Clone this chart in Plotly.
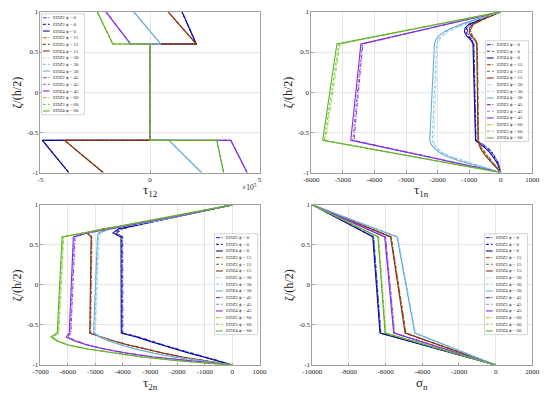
import plotly.graph_objects as go

W, H = 550, 395

PHIS = [0, 15, 30, 45, 60]
EDZS = ["EDZ2", "EDZ3", "EDZ4"]

COLORS = {
    0: ["#4646e6", "#2424c4", "#0e0e90"],
    15: ["#b0602a", "#6e6420", "#8a3214"],
    30: ["#b4e2f4", "#8ccaf0", "#6aaad8"],
    45: ["#7a44e2", "#a474da", "#8a2be2"],
    60: ["#a6d84a", "#84c83e", "#5eb030"],
}
DASHES = {"EDZ2": "4px,1.5px,1px,1.5px", "EDZ3": "3px,2px", "EDZ4": "solid"}

# ---------- subplot 1 : tau_12 (x 10^5) ----------
Z_T12 = [-1, -0.6, -0.6, 0.6, 0.6, 1]
T12_PHI0 = [-3.71, -4.91, 0, 0, 2.11, 1.46]
T12_PHI15 = [-2.14, -3.90, 0, 0, 2.11, 0.83]
T12_PHI30 = [2.35, 0.86, 0, 0, 0.49, -0.74]
T12_PHI45 = [4.43, 3.69, 0, 0, -0.89, -2.01]
T12_PHI60 = [3.36, 3.05, 0, 0, -1.70, -2.41]

# ---------- common zeta grids ----------
Z_C = [-1, -0.95, -0.9, -0.85, -0.8, -0.75, -0.7, -0.65, -0.6,
       0.6, 0.65, 0.7, 0.75, 0.8, 0.85, 0.9, 0.95, 1]
Z_L = [-1, -0.6, 0.6, 1]

# ---------- subplot 2 : tau_1n ----------
T1N_PHI0_EDZ2 = [0, -25, -60, -110, -180, -270, -390, -560, -780, -850, -900, -1000, -1060, -1040, -930, -640, -310, 0]
T1N_PHI0_EDZ3 = [0, -30, -70, -125, -200, -295, -420, -590, -790, -860, -920, -1030, -1100, -1080, -960, -660, -320, 0]
T1N_PHI0_EDZ4 = [0, -40, -95, -165, -250, -350, -480, -640, -800, -880, -950, -1080, -1150, -1130, -1000, -680, -330, 0]
T1N_PHI15_EDZ2 = [0, -100, -210, -320, -420, -510, -590, -650, -700, -740, -790, -890, -950, -930, -830, -570, -285, 0]
T1N_PHI15_EDZ3 = [0, -110, -225, -340, -445, -535, -615, -670, -710, -750, -805, -915, -975, -955, -850, -585, -292, 0]
T1N_PHI15_EDZ4 = [0, -120, -240, -360, -470, -560, -640, -690, -720, -760, -820, -940, -1000, -980, -870, -600, -300, 0]
T1N_PHI30_EDZ2 = [0, -400, -820, -1240, -1580, -1820, -1980, -2080, -2130, -1990, -1940, -1840, -1670, -1420, -1100, -760, -400, 0]
T1N_PHI30_EDZ3 = [0, -420, -850, -1280, -1620, -1860, -2020, -2120, -2170, -2030, -1980, -1880, -1710, -1460, -1140, -790, -415, 0]
T1N_PHI30_EDZ4 = [0, -450, -900, -1350, -1700, -1940, -2100, -2200, -2250, -2100, -2060, -1960, -1800, -1550, -1220, -850, -450, 0]
T1N_PHI45_EDZ2 = [0, -4650, -4370, 0]
T1N_PHI45_EDZ3 = [0, -4690, -4390, 0]
T1N_PHI45_EDZ4 = [0, -4750, -4430, 0]
T1N_PHI60_EDZ2 = [0, -5550, -5090, 0]
T1N_PHI60_EDZ3 = [0, -5590, -5130, 0]
T1N_PHI60_EDZ4 = [0, -5640, -5190, 0]

# ---------- subplot 3 : tau_2n ----------
T2N_PHI0_EDZ2 = [0, -440, -970, -1510, -2010, -2500, -2950, -3400, -3990, -4000, -4200, -4000, -3380, -2700, -2020, -1360, -680, 0]
T2N_PHI0_EDZ3 = [0, -470, -1010, -1550, -2050, -2550, -3000, -3450, -4020, -4030, -4270, -4070, -3410, -2720, -2035, -1370, -685, 0]
T2N_PHI0_EDZ4 = [0, -500, -1050, -1600, -2100, -2600, -3050, -3500, -4050, -4060, -4350, -4150, -3450, -2750, -2050, -1380, -690, 0]
T2N_PHI15_EDZ2 = [0, -960, -1800, -2500, -3150, -3750, -4300, -4730, -5170, -5120, -5260, -4650, -3620, -2830, -2090, -1395, -698, 0]
T2N_PHI15_EDZ3 = [0, -980, -1830, -2530, -3180, -3780, -4330, -4760, -5190, -5140, -5290, -4680, -3640, -2840, -2095, -1398, -699, 0]
T2N_PHI15_EDZ4 = [0, -1000, -1850, -2550, -3200, -3800, -4350, -4780, -5200, -5150, -5320, -4700, -3650, -2850, -2100, -1400, -700, 0]
T2N_PHI30_EDZ2 = [0, -1100, -2080, -2830, -3480, -3980, -4430, -4780, -4990, -4850, -4810, -4430, -3560, -2780, -2070, -1385, -692, 0]
T2N_PHI30_EDZ3 = [0, -1120, -2110, -2860, -3510, -4010, -4460, -4810, -5020, -4880, -4840, -4460, -3580, -2790, -2075, -1388, -694, 0]
T2N_PHI30_EDZ4 = [0, -1150, -2150, -2900, -3550, -4050, -4500, -4850, -5060, -4920, -4880, -4500, -3600, -2800, -2080, -1390, -695, 0]
T2N_PHI45_EDZ2 = [0, -1550, -2840, -3840, -4640, -5240, -5690, -6000, -5890, -5740, -5250, -4460, -3680, -2890, -2145, -1418, -709, 0]
T2N_PHI45_EDZ3 = [0, -1570, -2870, -3870, -4670, -5270, -5720, -6030, -5920, -5770, -5270, -4480, -3690, -2895, -2148, -1419, -710, 0]
T2N_PHI45_EDZ4 = [0, -1600, -2900, -3900, -4700, -5300, -5750, -6060, -5950, -5800, -5300, -4500, -3700, -2900, -2150, -1420, -710, 0]
T2N_PHI60_EDZ2 = [0, -1850, -3240, -4340, -5240, -5940, -6340, -6560, -6330, -6150, -5390, -4620, -3850, -3080, -2310, -1540, -770, 0]
T2N_PHI60_EDZ3 = [0, -1870, -3270, -4370, -5270, -5970, -6370, -6590, -6360, -6180, -5410, -4640, -3865, -3090, -2320, -1546, -773, 0]
T2N_PHI60_EDZ4 = [0, -1900, -3300, -4400, -5300, -6000, -6400, -6620, -6390, -6212, -5436, -4660, -3883, -3106, -2330, -1553, -776, 0]

# ---------- subplot 4 : sigma_n ----------
SN_PHI0_EDZ2 = [0, -6260, -6650, -10000]
SN_PHI0_EDZ3 = [0, -6280, -6670, -10000]
SN_PHI0_EDZ4 = [0, -6310, -6700, -10000]
SN_PHI15_EDZ2 = [0, -4890, -5690, -10000]
SN_PHI15_EDZ3 = [0, -4910, -5710, -10000]
SN_PHI15_EDZ4 = [0, -4940, -5730, -10000]
SN_PHI30_EDZ2 = [0, -4370, -5330, -10000]
SN_PHI30_EDZ3 = [0, -4390, -5350, -10000]
SN_PHI30_EDZ4 = [0, -4410, -5380, -10000]
SN_PHI45_EDZ2 = [0, -5510, -6000, -10000]
SN_PHI45_EDZ3 = [0, -5530, -6020, -10000]
SN_PHI45_EDZ4 = [0, -5560, -6050, -10000]
SN_PHI60_EDZ2 = [0, -5990, -6380, -10000]
SN_PHI60_EDZ3 = [0, -6010, -6400, -10000]
SN_PHI60_EDZ4 = [0, -6030, -6420, -10000]

# ---------- ticks ----------
Z_TICKS = [-1, -0.5, 0, 0.5, 1]
T12_TICKS = [-5, 0, 5]
T1N_TICKS = [-6000, -5000, -4000, -3000, -2000, -1000, 0, 1000]
T2N_TICKS = [-7000, -6000, -5000, -4000, -3000, -2000, -1000, 0, 1000]
SN_TICKS = [-10000, -8000, -6000, -4000, -2000, 0, 2000]

g = globals()
series = {1: {}, 2: {}, 3: {}, 4: {}}
for phi in PHIS:
    for e in EDZS:
        series[1][(phi, e)] = (Z_T12, g[f"T12_PHI{phi}"])
        series[2][(phi, e)] = (Z_L if phi >= 45 else Z_C, g[f"T1N_PHI{phi}_{e}"])
        series[3][(phi, e)] = (Z_C, g[f"T2N_PHI{phi}_{e}"])
        series[4][(phi, e)] = (Z_L, g[f"SN_PHI{phi}_{e}"])

# panel pixel boxes (left, right, top, bottom)
PANELS = {1: (31.5, 258, 8, 172), 2: (311.5, 540, 8, 172),
          3: (31.5, 258, 205, 368.5), 4: (312.5, 540, 205, 368.5)}
RANGES = {1: [-5, 5], 2: [-6000, 1000], 3: [-7000, 1000], 4: [-10000, 2000]}
XTICKS = {1: T12_TICKS, 2: T1N_TICKS, 3: T2N_TICKS, 4: SN_TICKS}
XTITLES = {1: "τ<sub>12</sub>", 2: "τ<sub>1n</sub>", 3: "τ<sub>2n</sub>", 4: "σ<sub>n</sub>"}
LEGBOX = {1: (32.5, 10), 2: (491.5, 37.5), 3: (211.5, 234.5), 4: (490.5, 234.5)}

SERIF = "Liberation Serif"
AXC = "#a0a0a0"


def fmt(v):
    return "%g" % v


fig = go.Figure()
layout = dict(width=W, height=H, margin=dict(l=0, r=0, t=0, b=0),
              paper_bgcolor="white", plot_bgcolor="white", showlegend=False)
shapes, annots = [], []


def px(x):
    return x / W


def py(y):
    return 1 - y / H


for k in range(1, 5):
    l, r, t, b = PANELS[k]
    xa = "xaxis" if k == 1 else f"xaxis{k}"
    ya = "yaxis" if k == 1 else f"yaxis{k}"
    common = dict(showgrid=True, gridcolor="#e6e6e6", gridwidth=0.6, zeroline=False,
                  showline=True, linecolor=AXC, linewidth=0.7, mirror=True,
                  ticks="inside", ticklen=2.5, tickcolor=AXC, tickwidth=0.6,
                  tickfont=dict(family=SERIF, size=7, color="#262626"))
    layout[xa] = dict(domain=[px(l), px(r)], range=RANGES[k], anchor=f"y{k}" if k > 1 else "y",
                      tickvals=XTICKS[k], ticktext=[fmt(v) for v in XTICKS[k]], **common)
    layout[ya] = dict(domain=[py(b), py(t)], range=[-1, 1], anchor=f"x{k}" if k > 1 else "x",
                      tickvals=Z_TICKS, ticktext=[fmt(v) for v in Z_TICKS], **common)
    for phi in PHIS:
        for i, e in enumerate(EDZS):
            z, v = series[k][(phi, e)]
            fig.add_trace(go.Scatter(x=v, y=z, mode="lines", name=f"{e} ϕ = {phi}",
                                     xaxis=f"x{k}" if k > 1 else "x", yaxis=f"y{k}" if k > 1 else "y",
                                     line=dict(color=COLORS[phi][i], width=1.1, dash=DASHES[e])))
    # axis titles
    annots.append(dict(text=XTITLES[k], x=px((l + r) / 2), y=py(b + 18.5), xref="paper", yref="paper",
                       showarrow=False, xanchor="center", yanchor="middle",
                       font=dict(family=SERIF, size=13, color="#262626")))
    annots.append(dict(text="ζ/(h/2)", x=px(l - 24), y=py((t + b) / 2), xref="paper", yref="paper",
                       showarrow=False, xanchor="center", yanchor="middle", textangle=-90,
                       font=dict(family=SERIF, size=12, color="#262626")))
    # legend
    lx, ly = LEGBOX[k]
    lw, lh, step = 44.5, 103, 6.8
    shapes.append(dict(type="rect", xref="paper", yref="paper", x0=px(lx), x1=px(lx + lw),
                       y0=py(ly + lh), y1=py(ly), fillcolor="white",
                       line=dict(color="#b8b8b8", width=0.6), layer="above"))
    j = 0
    for phi in PHIS:
        for i, e in enumerate(EDZS):
            yc = ly + 4 + j * step
            shapes.append(dict(type="line", xref="paper", yref="paper", x0=px(lx + 1.5), x1=px(lx + 8.5),
                               y0=py(yc), y1=py(yc), layer="above",
                               line=dict(color=COLORS[phi][i], width=1.1, dash=DASHES[e])))
            annots.append(dict(text=f"{e} ϕ = {phi}", x=px(lx + 10), y=py(yc), xref="paper", yref="paper",
                               showarrow=False, xanchor="left", yanchor="middle",
                               font=dict(family=SERIF, size=4.8, color="#262626")))
            j += 1

annots.append(dict(text="×10<sup>5</sup>", x=px(257), y=py(187), xref="paper", yref="paper",
                   showarrow=False, xanchor="right", yanchor="middle",
                   font=dict(family=SERIF, size=7.5, color="#262626")))

layout["shapes"] = shapes
layout["annotations"] = annots
fig.update_layout(**layout)
fig.write_html("out.html", config={"displayModeBar": False},
               post_script="document.body.style.margin='0';")
